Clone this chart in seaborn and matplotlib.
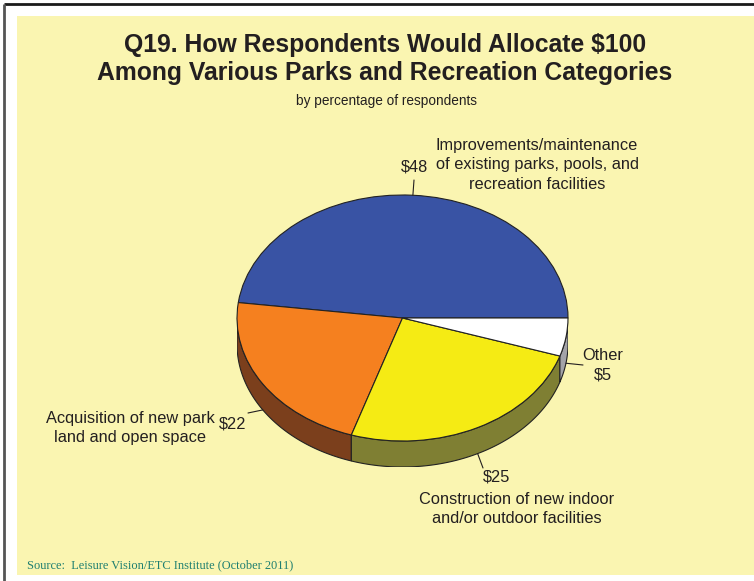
import numpy as np
import matplotlib
matplotlib.use("Agg")
import matplotlib.pyplot as plt
from matplotlib.patches import Rectangle, Polygon
import seaborn as sns

# Survey data: dollars allocated out of $100
categories = [
    "Improvements/maintenance\nof existing parks, pools, and\nrecreation facilities",
    "Acquisition of new park\nland and open space",
    "Construction of new indoor\nand/or outdoor facilities",
    "Other",
]
amounts = [48, 22, 25, 5]
top_colors = ["#3953A4", "#F5801F", "#F5EB14", "#FFFFFF"]
side_colors = ["#24356E", "#7B3F1C", "#7F7F33", "#A3A3A8"]

title = "Q19. How Respondents Would Allocate $100\nAmong Various Parks and Recreation Categories"
subtitle = "by percentage of respondents"
source = "Source:  Leisure Vision/ETC Institute (October 2011)"

sns.set_theme(style="white")
plt.rcParams["font.family"] = ["Liberation Sans", "DejaVu Sans"]

W, H = 754, 581
fig = plt.figure(figsize=(W / 100, H / 100), dpi=100, facecolor="white")

# Background layer in pixel coordinates
bg = fig.add_axes([0, 0, 1, 1], zorder=0)
bg.set_xlim(0, W)
bg.set_ylim(H, 0)
bg.axis("off")
bg.add_patch(Rectangle((17, 16), W - 17, 575 - 16, facecolor="#FAF5B1", edgecolor="none"))
bg.plot([4, W], [4, 4], color="#1a1a1a", lw=2, solid_capstyle="butt")
bg.plot([4, 4], [4, H], color="#555555", lw=2, solid_capstyle="butt")

# Pie geometry (pixels): ellipse centre, semi-axes and rim depth
cx, cy, a, b, depth = 402.5, 318.0, 165.5, 123.0, 26.0
d = depth / b
pie_ax = fig.add_axes([(cx - a) / W, (H - (cy + b + depth)) / H,
                       2 * a / W, (2 * b + depth) / H], zorder=1)
pie_ax.patch.set_alpha(0)

total = sum(amounts)
bounds = np.concatenate([[0], np.cumsum(amounts)]) / total * 360.0

# Rim of the tilted pie: only the front half (180..360 deg) is visible
for (t1, t2), col in zip(zip(bounds[:-1], bounds[1:]), side_colors):
    lo, hi = max(t1, 180.0), min(t2, 360.0)
    if hi <= lo:
        continue
    t = np.radians(np.linspace(lo, hi, 120))
    top = np.column_stack([np.cos(t), np.sin(t)])
    bot = np.column_stack([np.cos(t[::-1]), np.sin(t[::-1]) - d])
    pie_ax.add_patch(Polygon(np.vstack([top, bot]), closed=True, facecolor=col,
                             edgecolor="#222222", lw=0.8, zorder=1))

wedges, _ = pie_ax.pie(amounts, colors=top_colors, startangle=0, counterclock=True,
                       radius=1, wedgeprops=dict(edgecolor="#222222", linewidth=0.8))
for w in wedges:
    w.set_zorder(2)
pie_ax.set_aspect("auto")
pie_ax.set_xlim(-1, 1)
pie_ax.set_ylim(-1 - d, 1)
pie_ax.axis("off")

# Text layer in pixel coordinates
tx = fig.add_axes([0, 0, 1, 1], zorder=3)
tx.set_xlim(0, W)
tx.set_ylim(H, 0)
tx.axis("off")
tx.patch.set_alpha(0)

ink = "#231F20"
tx.text(385, 59, title, ha="center", va="center", fontsize=17.8,
        fontweight="bold", color=ink, linespacing=1.25)
tx.text(387, 101, subtitle, ha="center", va="center", fontsize=9.8, color=ink)
tx.text(27, 565, source, ha="left", va="center", fontsize=8.9, color="#1F7F70",
        family=["Liberation Serif", "DejaVu Serif"])


def rim_point(k):
    """Pixel position of the outer edge at the middle of slice k."""
    m = np.radians((bounds[k] + bounds[k + 1]) / 2)
    x, y = np.cos(m), np.sin(m)
    if y < 0:
        y -= d
    disp = pie_ax.transData.transform((x, y))
    return disp[0], H - disp[1]


fs = 11.8
ls = 1.38
leader_ends = [(414, 180), (248, 413), (483, 468), (583, 365)]
for k, end in enumerate(leader_ends):
    sx, sy = rim_point(k)
    tx.plot([sx, end[0]], [sy, end[1]], color=ink, lw=0.8)

tx.text(415, 167, f"${amounts[0]}", ha="center", va="center", fontsize=fs, color=ink)
tx.text(537, 165, categories[0], ha="center", va="center", fontsize=fs, color=ink,
        multialignment="center", linespacing=ls)
tx.text(233, 424, f"${amounts[1]}", ha="center", va="center", fontsize=fs, color=ink)
tx.text(130, 428, categories[1], ha="center", va="center", fontsize=fs, color=ink,
        multialignment="center", linespacing=ls)
tx.text(497, 477, f"${amounts[2]}", ha="center", va="center", fontsize=fs, color=ink)
tx.text(517, 509, categories[2], ha="center", va="center", fontsize=fs, color=ink,
        multialignment="center", linespacing=ls)
tx.text(603, 365.5, f"{categories[3]}\n${amounts[3]}", ha="center", va="center",
        fontsize=fs, color=ink, multialignment="center", linespacing=ls)

fig.savefig("out.png", dpi=100, facecolor="white")
